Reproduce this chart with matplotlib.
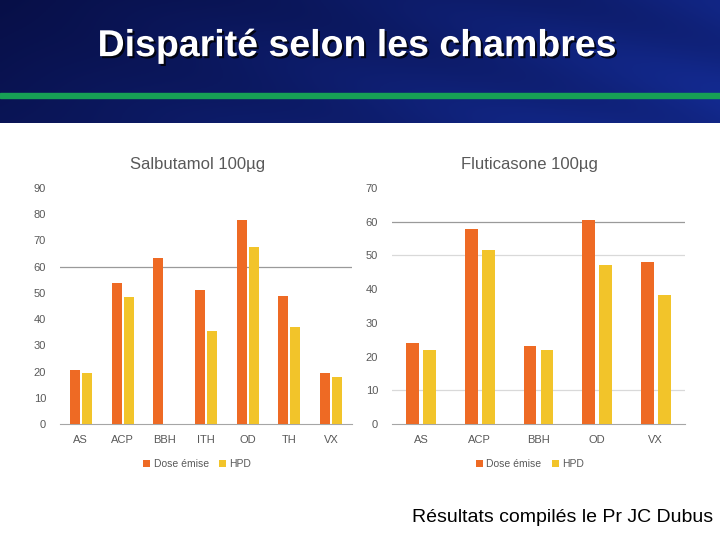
"""Diapositive : disparité selon les chambres (deux histogrammes groupés)."""

import matplotlib.pyplot as plt
import matplotlib.patheffects as pe
import numpy as np

W, H = 720, 540

series_names = ["Dose émise", "HPD"]

salbu_cats = ["AS", "ACP", "BBH", "ITH", "OD", "TH", "VX"]
salbu_dose = [20.7, 53.6, 63.2, 51.1, 77.7, 48.8, 19.5]
salbu_hpd = [19.5, 48.4, 0.0, 35.5, 67.4, 37.0, 18.0]

fluti_cats = ["AS", "ACP", "BBH", "OD", "VX"]
fluti_dose = [24.1, 57.8, 23.1, 60.5, 48.0]
fluti_hpd = [21.9, 51.6, 22.0, 47.1, 38.3]

ORANGE = "#EE6A24"
YELLOW = "#F2C42A"
GREY_TXT = "#595959"


def px_axes(fig, x0, y0, x1, y1):
    """Axes placed by pixel box (top-left origin)."""
    return fig.add_axes([x0 / W, 1 - y1 / H, (x1 - x0) / W, (y1 - y0) / H])


def bar_chart(ax, title, cats, dose, hpd, ymax, width, gap, grid_lines):
    x = np.arange(len(cats))
    off = (width + gap) / 2
    ax.bar(x - off, dose, width, color=ORANGE, label=series_names[0], zorder=3)
    ax.bar(x + off, hpd, width, color=YELLOW, label=series_names[1], zorder=3)
    ax.set_xlim(-0.5, len(cats) - 0.5)
    ax.set_ylim(0, ymax)
    ax.set_yticks(np.arange(0, ymax + 1, 10))
    ax.set_xticks(x)
    ax.set_xticklabels(cats)
    for y, c in grid_lines:
        ax.axhline(y, color=c, lw=0.9, zorder=1)
    for s in ("top", "right", "left"):
        ax.spines[s].set_visible(False)
    ax.spines["bottom"].set_color("#a6a6a6")
    ax.tick_params(length=0, colors=GREY_TXT, labelsize=8)
    ax.tick_params(axis="x", pad=8)
    ax.tick_params(axis="y", pad=10)
    ax.set_title(title, color=GREY_TXT, fontsize=12, pad=14, x=0.47)
    ax.legend(loc="upper center", bbox_to_anchor=(0.47, -0.11), ncol=2,
              frameon=False, fontsize=7.5, handlelength=0.7, handleheight=0.7,
              handletextpad=0.3, columnspacing=1.0, labelcolor=GREY_TXT)


def main() -> None:
    plt.rcParams["font.family"] = ["Liberation Sans", "DejaVu Sans"]
    fig = plt.figure(figsize=(W / 100, H / 100), dpi=100)
    fig.patch.set_facecolor("white")

    # bandeau bleu
    hdr = px_axes(fig, 0, 0, W, 123)
    gx, gy = np.meshgrid(np.linspace(0, 1, 300), np.linspace(0, 1, 60))
    t = 0.55 * gx + 0.15 * gy + 0.08 * np.sin(14 * (gx - 0.6 * gy)) * gx
    t = np.clip(t, 0, 1)
    c0 = np.array([0.03, 0.06, 0.28])
    c1 = np.array([0.09, 0.20, 0.66])
    img = c0 + t[..., None] * (c1 - c0)
    hdr.imshow(img, aspect="auto", extent=[0, 1, 0, 1])
    hdr.axhspan(0.205, 0.245, color="#17A055")
    hdr.set_axis_off()
    hdr.text(0.496, 0.625, "Disparité selon les chambres", color="white",
             fontsize=27, fontweight="bold", ha="center", va="center",
             path_effects=[pe.withSimplePatchShadow(offset=(1.5, -1.5),
                                                    shadow_rgbFace="black",
                                                    alpha=0.8)])

    ax1 = px_axes(fig, 60, 188, 352, 424)
    bar_chart(ax1, "Salbutamol 100µg", salbu_cats, salbu_dose, salbu_hpd,
              90, 0.24, 0.05, [(60, "#9a9a9a")])

    ax2 = px_axes(fig, 392, 188, 685, 424)
    bar_chart(ax2, "Fluticasone 100µg", fluti_cats, fluti_dose, fluti_hpd,
              70, 0.22, 0.07,
              [(10, "#d9d9d9"), (50, "#d9d9d9"), (60, "#9a9a9a")])

    fig.text(412 / W, 1 - 517 / H, "Résultats compilés le Pr JC Dubus",
             fontsize=14, color="black", ha="left", va="center")

    fig.savefig("out.png", dpi=100)
    plt.close(fig)


if __name__ == "__main__":
    main()
